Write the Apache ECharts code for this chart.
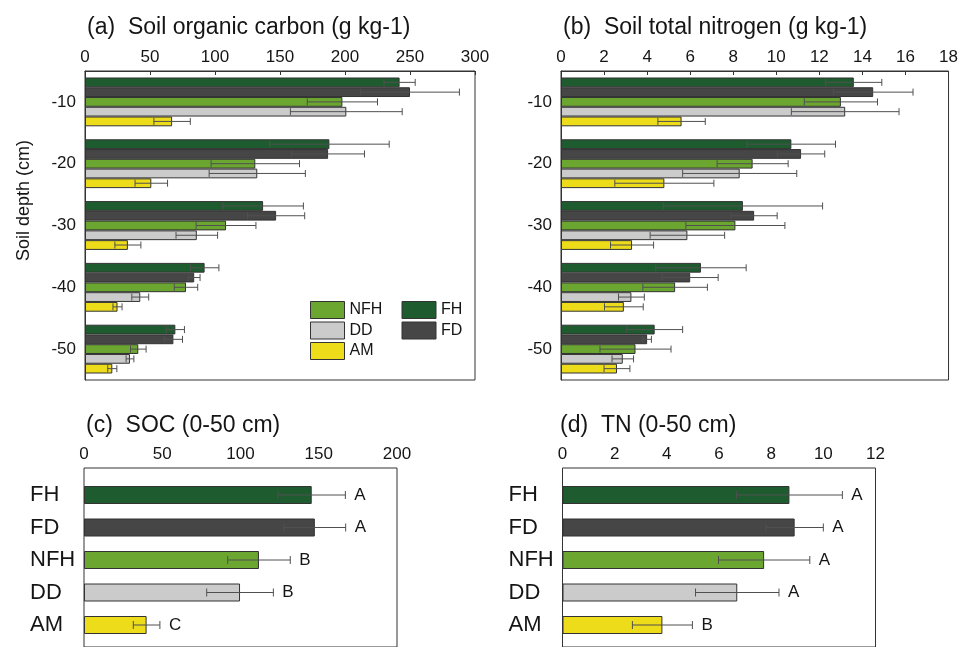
<!DOCTYPE html>
<html>
<head>
<meta charset="utf-8">
<script src="https://cdn.jsdelivr.net/npm/echarts@6.0.0/dist/echarts.min.js"></script>
<style>
html,body{margin:0;padding:0;background:#fff;}
#chart{width:961px;height:647px;}
</style>
</head>
<body>
<div id="chart"></div>
<script>
// ---------- data ----------
const depthCats = ['-10', '-20', '-30', '-40', '-50'];
const treatments = ['FH', 'FD', 'NFH', 'DD', 'AM'];

// (a) Soil organic carbon by depth (g kg-1): mean and error
const socFH = [242, 188, 137, 92, 69.5];
const socFD = [250, 187, 147, 84, 68];
const socNFH = [198, 131, 108.5, 77.7, 41];
const socDD = [201, 132.5, 86, 42.5, 34.6];
const socAM = [67, 51, 33, 25, 21];
const socFHse = [12, 46, 31, 11, 7];
const socFDse = [38, 28, 22, 4.5, 7];
const socNFHse = [27, 34, 23, 9, 6];
const socDDse = [43, 37, 16, 6.5, 3];
const socAMse = [14, 12.5, 10, 3.5, 3.5];

// (b) Soil total nitrogen by depth (g kg-1)
const tnFH = [13.6, 10.7, 8.45, 6.5, 4.35];
const tnFD = [14.5, 11.15, 8.97, 6.0, 4.0];
const tnNFH = [13.0, 8.9, 8.1, 5.3, 3.46];
const tnDD = [13.2, 8.3, 5.87, 3.27, 2.87];
const tnAM = [5.6, 4.8, 3.3, 2.92, 2.6];
const tnFHse = [1.3, 2.05, 3.7, 2.1, 1.3];
const tnFDse = [1.85, 1.1, 1.07, 1.3, 0.2];
const tnNFHse = [1.7, 1.65, 2.3, 1.5, 1.65];
const tnDDse = [2.5, 2.65, 1.73, 0.6, 0.5];
const tnAMse = [1.1, 2.3, 1.0, 0.9, 0.6];

// (c) SOC 0-50 cm, (d) TN 0-50 cm
const socTotal = [145.5, 147.5, 111.8, 99.7, 40];
const socTotalSe = [21.5, 19.7, 20, 21.3, 8.5];
const socLetters = ['A', 'A', 'B', 'B', 'C'];
const tnTotal = [8.7, 8.9, 7.73, 6.7, 3.83];
const tnTotalSe = [2.03, 1.1, 1.75, 1.6, 1.15];
const tnLetters = ['A', 'A', 'A', 'A', 'B'];

// axis ticks
const socTicks = { min: 0, max: 300, interval: 50 };
const tnTicks = { min: 0, max: 18, interval: 2 };
const socTotTicks = { min: 0, max: 200, interval: 50 };
const tnTotTicks = { min: 0, max: 12, interval: 2 };

// ---------- styles ----------
const colors = { FH: '#1e5c30', FD: '#464646', NFH: '#6ba631', DD: '#cbcbcb', AM: '#ecdc1a' };
const FONT = 'Liberation Sans, Arial, Helvetica, sans-serif';
const TXT = '#151515';
const LINE = '#333';
const ERR = '#505050';
const GAP = 0.21;

const chart = echarts.init(document.getElementById('chart'), null, { renderer: 'canvas' });

function topValueAxis(gridIndex, t, show) {
  return {
    type: 'value', gridIndex, position: 'top', min: t.min, max: t.max, interval: t.interval,
    show: show,
    axisLine: { show: true, lineStyle: { color: LINE, width: 1 } },
    axisTick: { show: true, inside: true, length: 4, lineStyle: { color: LINE } },
    axisLabel: { fontSize: 17, color: TXT, margin: 5, fontFamily: FONT },
    splitLine: { show: false }
  };
}

function errSeries(xIdx, yIdx, means, ses, slot, nSlots, capHalf) {
  return {
    type: 'custom', xAxisIndex: xIdx, yAxisIndex: yIdx, z: 5, silent: true,
    data: means.map((m, i) => [m - ses[i], m + ses[i], i]),
    encode: { x: [0, 1], y: 2 },
    renderItem: function (params, api) {
      const i = api.value(2);
      const p0 = api.coord([api.value(0), i]);
      const p1 = api.coord([api.value(1), i]);
      let y = p0[1];
      if (nSlots > 1) {
        const band = api.size([0, 1])[1];
        const inner = band * (1 - GAP);
        const bw = inner / nSlots;
        y = y - inner / 2 + (slot + 0.5) * bw;
      }
      const st = { stroke: ERR, lineWidth: 1 };
      return {
        type: 'group', children: [
          { type: 'line', shape: { x1: p0[0], y1: y, x2: p1[0], y2: y }, style: st },
          { type: 'line', shape: { x1: p0[0], y1: y - capHalf, x2: p0[0], y2: y + capHalf }, style: st },
          { type: 'line', shape: { x1: p1[0], y1: y - capHalf, x2: p1[0], y2: y + capHalf }, style: st }
        ]
      };
    }
  };
}

function letterSeries(xIdx, yIdx, means, ses, letters) {
  return {
    type: 'custom', xAxisIndex: xIdx, yAxisIndex: yIdx, z: 6, silent: true,
    data: means.map((m, i) => [m + ses[i], i]),
    encode: { x: 0, y: 1 },
    renderItem: function (params, api) {
      const p = api.coord([api.value(0), api.value(1)]);
      return {
        type: 'text', x: p[0] + 9, y: p[1],
        style: { text: letters[params.dataIndex], fontSize: 17, fontFamily: FONT, fill: TXT, align: 'left', verticalAlign: 'middle' }
      };
    }
  };
}

function groupBar(name, xIdx, yIdx, values) {
  return {
    name, type: 'bar', xAxisIndex: xIdx, yAxisIndex: yIdx, data: values,
    barGap: '0%', barCategoryGap: (GAP * 100) + '%',
    itemStyle: { color: colors[name], borderColor: LINE, borderWidth: 1 },
    emphasis: { disabled: true }
  };
}

const order = ['FH', 'FD', 'NFH', 'DD', 'AM'];
const socVals = { FH: socFH, FD: socFD, NFH: socNFH, DD: socDD, AM: socAM };
const socSes = { FH: socFHse, FD: socFDse, NFH: socNFHse, DD: socDDse, AM: socAMse };
const tnVals = { FH: tnFH, FD: tnFD, NFH: tnNFH, DD: tnDD, AM: tnAM };
const tnSes = { FH: tnFHse, FD: tnFDse, NFH: tnNFHse, DD: tnDDse, AM: tnAMse };

const series = [];
order.forEach((k) => { series.push(groupBar(k, 0, 0, socVals[k])); });
order.forEach((k, s) => { series.push(errSeries(0, 0, socVals[k], socSes[k], s, 5, 3.5)); });
order.forEach((k) => { series.push(groupBar(k, 1, 1, tnVals[k])); });
order.forEach((k, s) => { series.push(errSeries(1, 1, tnVals[k], tnSes[k], s, 5, 3.5)); });

function totalBar(name, xIdx, yIdx, values) {
  return {
    name, type: 'bar', xAxisIndex: xIdx, yAxisIndex: yIdx, data: values, barWidth: 18,
    itemStyle: { color: p => colors[treatments[p.dataIndex]], borderColor: LINE, borderWidth: 1 },
    emphasis: { disabled: true }
  };
}
series.push(totalBar('SOC (0-50 cm)', 3, 3, socTotal));
series.push(errSeries(3, 3, socTotal, socTotalSe, 0, 1, 4));
series.push(letterSeries(3, 3, socTotal, socTotalSe, socLetters));
series.push(totalBar('TN (0-50 cm)', 5, 5, tnTotal));
series.push(errSeries(5, 5, tnTotal, tnTotalSe, 0, 1, 4));
series.push(letterSeries(5, 5, tnTotal, tnTotalSe, tnLetters));

const frame = { show: true, borderColor: LINE, borderWidth: 1, backgroundColor: 'transparent' };

function depthYAxis(gridIndex, withName) {
  const ax = {
    type: 'category', gridIndex, data: depthCats, inverse: true,
    axisLine: { show: true, lineStyle: { color: LINE } },
    axisTick: { show: false },
    axisLabel: { fontSize: 17, color: TXT, margin: 9, fontFamily: FONT },
    splitLine: { show: false }
  };
  if (withName) {
    Object.assign(ax, {
      name: 'Soil depth (cm)', nameLocation: 'middle', nameRotate: 90, nameGap: 52,
      nameTextStyle: { fontSize: 18, color: TXT, fontFamily: FONT, padding: [0, 0, 0, 50] }
    });
  }
  return ax;
}

function treatYAxis(gridIndex) {
  return {
    type: 'category', gridIndex, data: treatments, inverse: true,
    axisLine: { show: false }, axisTick: { show: false },
    axisLabel: { fontSize: 22, color: TXT, margin: 54, align: 'left', fontFamily: FONT },
    splitLine: { show: false }
  };
}

const hiddenY = (gridIndex) => ({ type: 'value', gridIndex, show: false, min: 0, max: 1 });

const titleStyle = { fontSize: 23, fontWeight: 'normal', color: TXT, fontFamily: FONT };

const legendBase = {
  orient: 'vertical', top: 301, padding: 0,
  itemWidth: 34, itemHeight: 17, itemGap: 2.5, icon: 'rect', selectedMode: false,
  itemStyle: { borderWidth: 1, borderColor: LINE },
  textStyle: { fontSize: 16, color: TXT, fontFamily: FONT }
};

const option = {
  animation: false,
  backgroundColor: '#fff',
  textStyle: { fontFamily: FONT },
  title: [
    { text: '(a)  Soil organic carbon (g kg-1)', left: 87, top: 16, padding: 0, textStyle: titleStyle },
    { text: '(b)  Soil total nitrogen (g kg-1)', left: 563, top: 16, padding: 0, textStyle: titleStyle },
    { text: '(c)  SOC (0-50 cm)', left: 86, top: 414, padding: 0, textStyle: titleStyle },
    { text: '(d)  TN (0-50 cm)', left: 560, top: 414, padding: 0, textStyle: titleStyle }
  ],
  legend: [
    Object.assign({ data: ['NFH', 'DD', 'AM'], left: 310 }, legendBase),
    Object.assign({ data: ['FH', 'FD'], left: 401.5 }, legendBase)
  ],
  grid: [
    Object.assign({ left: 85, top: 71, width: 390, height: 309 }, frame),        // 0 (a)
    Object.assign({ left: 561, top: 71, width: 391, height: 309 }, frame),       // 1 (b)
    Object.assign({ left: 84, top: 468, width: 313, height: 200 }, frame),       // 2 (c) frame
    { left: 84, top: 478.75, width: 313, height: 162.5 },                         // 3 (c) data
    Object.assign({ left: 562.5, top: 468, width: 313, height: 200 }, frame),    // 4 (d) frame
    { left: 562.5, top: 478.75, width: 313, height: 162.5 }                       // 5 (d) data
  ],
  xAxis: [
    topValueAxis(0, socTicks, true),
    topValueAxis(1, tnTicks, true),
    topValueAxis(2, socTotTicks, true),
    topValueAxis(3, socTotTicks, false),
    topValueAxis(4, tnTotTicks, true),
    topValueAxis(5, tnTotTicks, false)
  ],
  yAxis: [
    depthYAxis(0, true),
    depthYAxis(1, false),
    hiddenY(2),
    treatYAxis(3),
    hiddenY(4),
    treatYAxis(5)
  ],
  series
};
chart.setOption(option);
</script>
</body>
</html>
